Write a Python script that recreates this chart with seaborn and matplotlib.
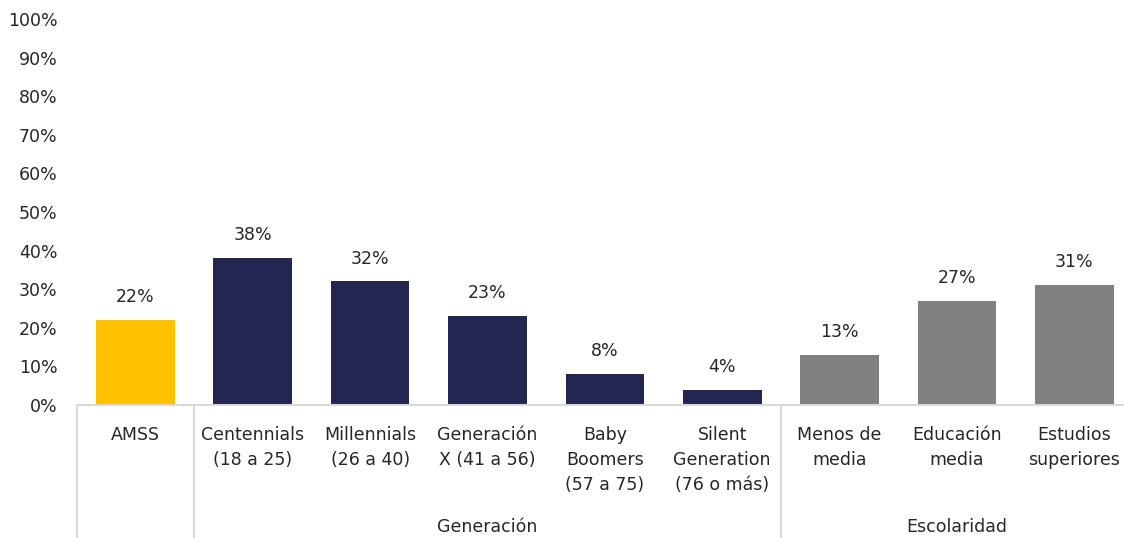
import matplotlib
matplotlib.use("Agg")
import matplotlib.pyplot as plt
import seaborn as sns
import pandas as pd

categories = ["AMSS", "Centennials\n(18 a 25)", "Millennials\n(26 a 40)", "Generación\nX (41 a 56)",
              "Baby\nBoomers\n(57 a 75)", "Silent\nGeneration\n(76 o más)", "Menos de\nmedia",
              "Educación\nmedia", "Estudios\nsuperiores"]
values = [22, 38, 32, 23, 8, 4, 13, 27, 31]
colors = ["#FFC000"] + ["#222651"] * 5 + ["#808080"] * 3
groups = ["Generación", "Escolaridad"]
group_spans = [(1, 5), (6, 8)]
yticks = list(range(0, 101, 10))

sns.set_theme(style="white")
plt.rcParams["font.family"] = ["DejaVu Sans"]
txt = "#262626"
fs = 12.5

df = pd.DataFrame({"cat": categories, "val": values})

fig = plt.figure(figsize=(11.24, 5.38), dpi=100)
ax = fig.add_axes([0.0683, 0.2472, 0.9397, 0.7175])
sns.barplot(data=df, x="cat", y="val", hue="cat", palette=colors, legend=False,
            width=0.67, saturation=1, linewidth=0, ax=ax)

for cont in ax.containers:
    ax.bar_label(cont, labels=[f"{v:.0f}%" for v in cont.datavalues], padding=10,
                 fontsize=fs, color=txt)

ax.set_ylim(0, 100)
ax.set_xlim(-0.5, 8.5)
ax.set_yticks(yticks)
ax.set_yticklabels([f"{t}%" for t in yticks], fontsize=fs, color=txt)
ax.tick_params(axis="y", length=0, pad=14)
ax.tick_params(axis="x", length=0, pad=15, labelsize=fs, labelcolor=txt)
plt.setp(ax.get_xticklabels(), linespacing=1.5)
ax.set_xlabel("")
ax.set_ylabel("")

for s in ["left", "top", "right"]:
    ax.spines[s].set_visible(False)
ax.spines["bottom"].set_color("#D9D9D9")
ax.spines["bottom"].set_linewidth(1.5)

# separators between groups, reaching below the category labels
trans = ax.get_xaxis_transform()
for xs in [-0.5, 0.5, 5.5, 8.5]:
    ax.plot([xs, xs], [0, -0.35], color="#D9D9D9", lw=1.5, transform=trans, clip_on=False)

for name, (a, b) in zip(groups, group_spans):
    ax.text((a + b) / 2, -0.316, name, transform=trans, ha="center", va="center",
            fontsize=fs, color=txt)

fig.savefig("out.png", dpi=100)
